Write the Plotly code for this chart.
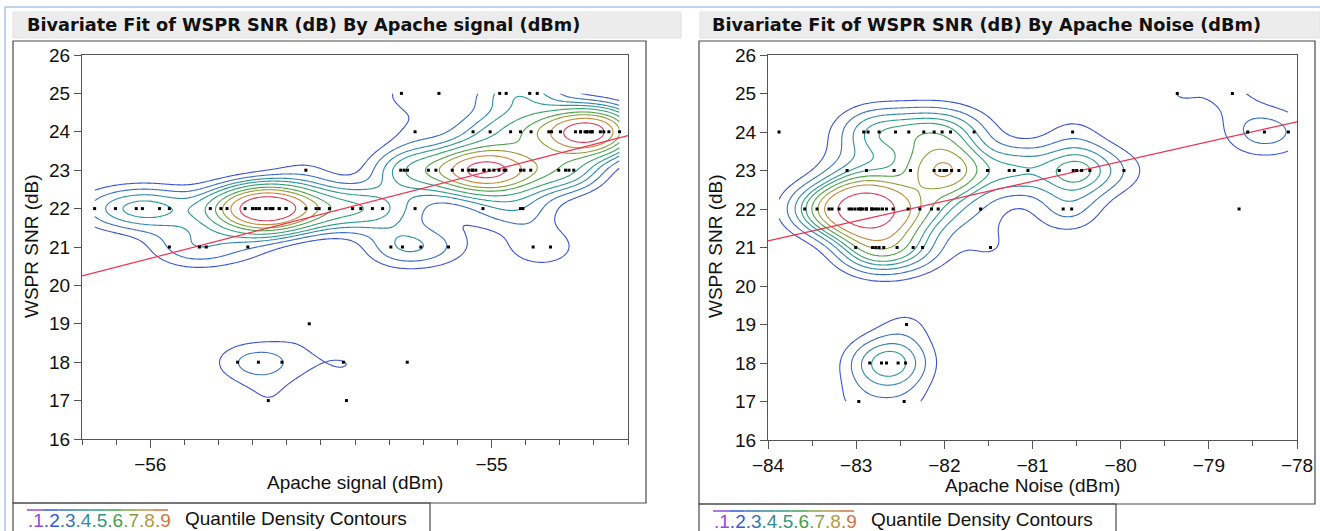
import numpy as np
import plotly.graph_objects as go

# ---------------- data ----------------
# WSPR SNR (dB) versus Apache signal (dBm)
sig_x = [
    # SNR 25
    -55.264, -55.154, -54.976, -54.957, -54.888, -54.866,
    # SNR 24
    -55.224, -55.054, -55.004, -54.944, -54.915, -54.884, -54.832, -54.824, -54.798,
    -54.754, -54.739, -54.726, -54.720, -54.710, -54.705, -54.681, -54.671, -54.656, -54.625,
    -54.739, -54.720, -54.705,
    # SNR 23
    -55.544, -55.266, -55.256, -55.246, -55.185, -55.163, -55.115, -55.085, -55.066, -55.056,
    -55.046, -55.022, -55.007, -54.993, -54.978, -54.963, -54.958, -54.915, -54.905, -54.885,
    -54.803, -54.783, -54.773, -54.759, -55.056, -55.022,
    # SNR 22
    -56.163, -56.102, -56.041, -56.023, -55.973, -55.944, -55.824, -55.793, -55.775, -55.722,
    -55.700, -55.690, -55.680, -55.661, -55.649, -55.641, -55.622, -55.602, -55.544, -55.514,
    -55.505, -55.475, -55.407, -55.383, -55.349, -55.319, -55.224, -55.025, -54.915, -54.908,
    -55.690, -55.661, -55.641, -55.700, -55.622, -55.602,
    # SNR 21
    -55.944, -55.856, -55.836, -55.714, -55.295, -55.261, -55.207, -55.126, -54.878, -54.827,
    # SNR 19, 18, 17
    -55.534,
    -55.744, -55.683, -55.614, -55.434, -55.247,
    -55.654, -55.425,
]
sig_y = (
    [25] * 6 + [24] * 22 + [23] * 26 + [22] * 36 + [21] * 10 + [19] * 1 + [18] * 5 + [17] * 2
)

# WSPR SNR (dB) versus Apache noise (dBm)
noise_x = [
    # SNR 25
    -79.358, -78.733,
    # SNR 24
    -83.875, -82.914, -82.865, -82.740, -82.554, -82.403, -82.233, -82.116, -82.025, -81.930,
    -81.662, -80.545, -78.559, -78.370, -78.098,
    # SNR 23
    -83.103, -82.883, -82.570, -82.384, -82.116, -82.051, -82.002, -81.975, -81.918, -81.835,
    -81.510, -81.264, -81.208, -81.052, -80.697, -80.538, -80.499, -80.443, -80.349, -79.963,
    -82.002, -81.975,
    # SNR 22
    -83.583, -83.444, -83.308, -83.274, -83.194, -83.081, -83.053, -83.016, -82.978, -82.951,
    -82.922, -82.883, -82.826, -82.797, -82.770, -82.740, -82.701, -82.656, -82.581, -82.411,
    -82.278, -82.145, -82.070, -81.589, -80.652, -80.556, -78.657,
    -82.951, -82.883, -82.826,
    # SNR 21
    -83.005, -82.815, -82.778, -82.740, -82.687, -82.536, -82.354, -82.247, -81.476,
    # SNR 19, 18, 17
    -82.429,
    -82.846, -82.713, -82.656, -82.524, -82.440,
    -82.970, -82.456,
]
noise_y = (
    [25] * 2 + [24] * 15 + [23] * 22 + [22] * 30 + [21] * 9 + [19] * 1 + [18] * 5 + [17] * 2
)

quantile_levels = [0.1, 0.2, 0.3, 0.4, 0.5, 0.6, 0.7, 0.8, 0.9]
level_labels = [".1", ".2", ".3", ".4", ".5", ".6", ".7", ".8", ".9"]

# contour line colours, outer (low density) to inner (high density)
line_colors = ["#3b53d2", "#3a6fc2", "#2f88aa", "#2a9993", "#33a072",
               "#4da04a", "#8f9f38", "#c4873c", "#d83c5c"]
legend_colors = ["#9448e0", "#3556dc", "#3473bd", "#358a9e", "#2f9a80",
                 "#43a04e", "#86a03e", "#b39a42", "#cf7440"]

FONT = "Liberation Sans, Arial, sans-serif"
TITLE_FONT = "DejaVu Sans, Verdana, sans-serif"
W, H = 1320, 531


def px(x):
    return x / W


def py(y):
    return 1 - y / H


def density_contours(xs, ys, hx, hy, n=240):
    """Gaussian kernel density on the data's bounding box, with contour
    levels chosen so that each level leaves the given share of the
    estimated density volume below it."""
    xs = np.asarray(xs, float)
    ys = np.asarray(ys, float)
    gx = np.linspace(xs.min(), xs.max(), n)
    gy = np.linspace(ys.min(), ys.max(), n)
    kx = np.exp(-0.5 * ((gx[:, None] - xs[None, :]) / hx) ** 2)
    ky = np.exp(-0.5 * ((gy[:, None] - ys[None, :]) / hy) ** 2)
    z = ky @ kx.T
    flat = np.sort(z.ravel())
    cum = np.cumsum(flat) / flat.sum()
    levels = [flat[np.searchsorted(cum, q)] for q in quantile_levels]
    return gx, gy, z, levels


fig = go.Figure()


def add_panel(xs, ys, hx, hy, xref, yref, xrange):
    gx, gy, z, levels = density_contours(xs, ys, hx, hy)
    for lv, col in zip(levels, line_colors):
        fig.add_trace(go.Contour(
            x=gx, y=gy, z=z, xaxis=xref, yaxis=yref,
            contours=dict(start=lv, end=lv, size=1, coloring="lines"),
            colorscale=[[0, col], [1, col]], showscale=False,
            line=dict(width=1.1, smoothing=1), hoverinfo="skip",
        ))
    slope, icpt = np.polyfit(xs, ys, 1)
    fx = np.array(xrange)
    fig.add_trace(go.Scatter(
        x=fx, y=slope * fx + icpt, xaxis=xref, yaxis=yref, mode="lines",
        line=dict(color="#f03050", width=1.2), hoverinfo="skip",
    ))
    fig.add_trace(go.Scatter(
        x=xs, y=ys, xaxis=xref, yaxis=yref, mode="markers",
        marker=dict(symbol="square", size=3, color="black", line=dict(width=0)),
        hoverinfo="skip",
    ))


LEFT_RANGE = [-56.2, -54.6]
RIGHT_RANGE = [-84, -78]
add_panel(sig_x, sig_y, 0.078, 0.42, "x", "y", LEFT_RANGE)
add_panel(noise_x, noise_y, 0.28, 0.47, "x2", "y2", RIGHT_RANGE)

axis_common = dict(
    showline=True, mirror=True, linecolor="#555555", linewidth=1,
    showgrid=False, zeroline=False, ticks="outside", tickcolor="#555555",
    automargin=False,
    tickfont=dict(family=FONT, size=19, color="#111111"),
)

fig.update_layout(
    width=W, height=H,
    margin=dict(l=0, r=0, t=0, b=0, pad=0, autoexpand=False),
    paper_bgcolor="white", plot_bgcolor="white", showlegend=False,
    xaxis=dict(domain=[px(82), px(628)], range=LEFT_RANGE, tickvals=[-56, -55],
               ticklen=8, minor=dict(dtick=0.1, ticklen=5, ticks="outside",
                                     tickcolor="#555555"),
               anchor="y", **axis_common),
    yaxis=dict(domain=[py(439), py(55)], range=[16, 26], dtick=1, ticklen=7,
               anchor="x", **axis_common),
    xaxis2=dict(domain=[px(768), px(1297)], range=RIGHT_RANGE, dtick=1,
                ticklen=8, minor=dict(dtick=0.5, ticklen=5, ticks="outside",
                                      tickcolor="#555555"),
                anchor="y2", **axis_common),
    yaxis2=dict(domain=[py(440), py(55)], range=[16, 26], dtick=1, ticklen=7,
                anchor="x2", **axis_common),
)

shapes = []
ann = []
# outer window border
shapes.append(dict(type="line", xref="paper", yref="paper", x0=px(5), x1=1,
                   y0=py(7), y1=py(7), line=dict(color="#a9c6e6", width=1.5)))
shapes.append(dict(type="line", xref="paper", yref="paper", x0=px(5), x1=px(5),
                   y0=py(7), y1=0, line=dict(color="#a9c6e6", width=1.5)))

panels = [
    dict(bar=(13, 681), frame=(13, 646, 41, 503), legend=(13, 430), tx=25,
         title="Bivariate Fit of WSPR SNR (dB) By Apache signal (dBm)",
         xt="Apache signal (dBm)", xt_pos=(355, 482), yt_pos=(32, 246)),
    dict(bar=(700, 1320), frame=(699, 1315, 41, 504), legend=(699, 1116), tx=710,
         title="Bivariate Fit of WSPR SNR (dB) By Apache Noise (dBm)",
         xt="Apache Noise (dBm)", xt_pos=(1032, 485), yt_pos=(716, 246)),
]
for p in panels:
    b0, b1 = p["bar"]
    shapes.append(dict(type="rect", xref="paper", yref="paper",
                       x0=px(b0), x1=px(b1), y0=py(38), y1=py(12),
                       fillcolor="#ececec", line=dict(color="#e2e2e2", width=1),
                       layer="below"))
    f0, f1, ft, fb = p["frame"]
    shapes.append(dict(type="rect", xref="paper", yref="paper",
                       x0=px(f0), x1=px(f1), y0=py(fb), y1=py(ft),
                       line=dict(color="#4a4a4a", width=1.2)))
    l0, l1 = p["legend"]
    shapes.append(dict(type="rect", xref="paper", yref="paper",
                       x0=px(l0), x1=px(l1), y0=py(535), y1=py(fb),
                       line=dict(color="#4a4a4a", width=1.2)))
    ann.append(dict(xref="paper", yref="paper", x=px(p["tx"]), y=py(25),
                    xanchor="left", yanchor="middle", showarrow=False,
                    text="<b>" + p["title"] + "</b>",
                    font=dict(family=TITLE_FONT, size=17.7, color="#111111")))
    ann.append(dict(xref="paper", yref="paper", x=px(p["xt_pos"][0]),
                    y=py(p["xt_pos"][1]), xanchor="center", yanchor="middle",
                    showarrow=False, text=p["xt"],
                    font=dict(family=FONT, size=19, color="#111111")))
    ann.append(dict(xref="paper", yref="paper", x=px(p["yt_pos"][0]),
                    y=py(p["yt_pos"][1]), xanchor="center", yanchor="middle",
                    showarrow=False, text="WSPR SNR (dB)", textangle=-90,
                    font=dict(family=FONT, size=19, color="#111111")))
    # legend: coloured level keys and caption
    lx = l0 + 14
    ly = fb + 7
    seg = 141 / 9
    for i, c in enumerate(legend_colors):
        shapes.append(dict(type="line", xref="paper", yref="paper",
                           x0=px(lx + i * seg), x1=px(lx + (i + 1) * seg),
                           y0=py(ly), y1=py(ly), line=dict(color=c, width=1.5)))
    key_text = "".join('<span style="color:%s">%s</span>' % (c, t)
                       for c, t in zip(legend_colors, level_labels))
    ann.append(dict(xref="paper", yref="paper", x=px(lx - 1), y=py(fb + 17),
                    xanchor="left", yanchor="middle", showarrow=False,
                    text=key_text, font=dict(family=FONT, size=19)))
    ann.append(dict(xref="paper", yref="paper", x=px(lx + 156), y=py(fb + 15),
                    xanchor="left", yanchor="middle", showarrow=False,
                    text="Quantile Density Contours",
                    font=dict(family=FONT, size=19, color="#111111")))

fig.update_layout(shapes=shapes, annotations=ann)
fig.write_html("out.html")
